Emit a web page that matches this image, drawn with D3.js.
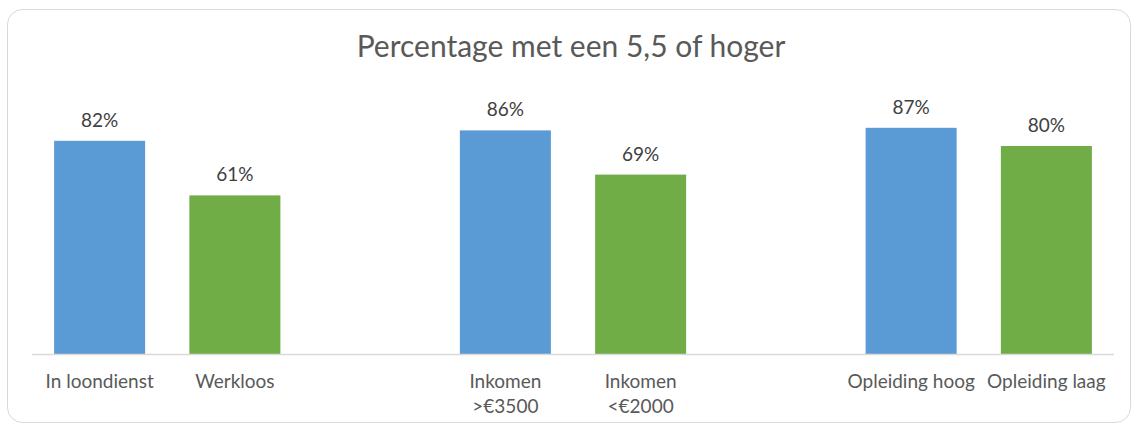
<!DOCTYPE html>
<html><head><meta charset="utf-8">
<script src="https://cdn.jsdelivr.net/npm/d3@7"></script>
<style>html,body{margin:0;padding:0;background:#fff;} svg{display:block;}</style>
</head><body>
<script>
const categories = ["In loondienst|", "Werkloos|", "gap1", "Inkomen|>€3500", "Inkomen|<€2000", "gap2", "Opleiding hoog|", "Opleiding laag|"];
const values = [82, 61, null, 86, 69, null, 87, 80];
const seriesColor = ["blue", "green", null, "blue", "green", null, "blue", "green"];
const title = "Percentage met een 5,5 of hoger";

const W = 1132, H = 425;
const colors = {blue: "#5B9BD5", green: "#70AD47"};
const svg = d3.select("body").append("svg").attr("width", W).attr("height", H);
const font = "Lato, 'Open Sans', sans-serif";

svg.append("rect").attr("x", 7.5).attr("y", 9.5).attr("width", 1123).attr("height", 413)
  .attr("rx", 15).attr("fill", "#fff").attr("stroke", "#d9d9d9").attr("stroke-width", 1);

svg.append("text").attr("x", 571).attr("y", 57).attr("text-anchor", "middle")
  .attr("font-family", font).attr("font-size", 30).attr("fill", "#595959").text(title);

const x = d3.scaleBand().domain(d3.range(categories.length)).range([32, 1114]).paddingInner(0.327).paddingOuter(0.1635);
const y = d3.scaleLinear().domain([0, 100]).range([354, 94]);

const data = categories.map((c, i) => ({i, c, v: values[i], s: seriesColor[i]})).filter(d => d.v != null);

svg.selectAll("rect.bar").data(data).enter().append("rect").attr("class", "bar")
  .attr("x", d => x(d.i)).attr("width", x.bandwidth())
  .attr("y", d => y(d.v)).attr("height", d => y(0) - y(d.v))
  .attr("fill", d => colors[d.s]);

svg.selectAll("text.val").data(data).enter().append("text").attr("class", "val")
  .attr("x", d => x(d.i) + x.bandwidth() / 2).attr("y", d => y(d.v) - 14)
  .attr("text-anchor", "middle").attr("font-family", font).attr("font-size", 19)
  .attr("fill", "#404040").text(d => d.v + "%");

svg.append("line").attr("x1", 32).attr("x2", 1114).attr("y1", 354.5).attr("y2", 354.5)
  .attr("stroke", "#d9d9d9").attr("stroke-width", 1.5);

const lab = svg.selectAll("text.lab").data(data).enter().append("text").attr("class", "lab")
  .attr("text-anchor", "middle").attr("font-family", font).attr("font-size", 19).attr("fill", "#595959");
lab.each(function(d) {
  const parts = d.c.split("|").filter(p => p);
  const cx = x(d.i) + x.bandwidth() / 2;
  parts.forEach((p, k) => {
    d3.select(this).append("tspan").attr("x", cx).attr("y", 388 + k * 25).text(p);
  });
});
</script>
</body></html>
